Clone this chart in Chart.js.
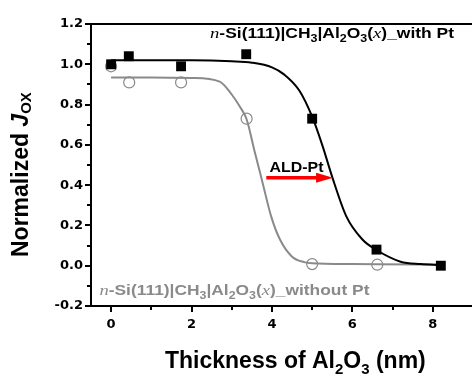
<!DOCTYPE html>
<html><head><meta charset="utf-8">
<script src="https://cdn.jsdelivr.net/npm/chart.js@4.4.0/dist/chart.umd.min.js"></script>
<style>html,body{margin:0;padding:0;overflow:hidden;background:#fff}#wrap{width:480px;height:374px}</style>
</head><body><div id="wrap"><canvas id="c" width="480" height="374"></canvas></div>
<script>
// ---- data ----
const thicknessWithPt = [0, 0.44, 1.74, 3.36, 5.0, 6.6, 8.2];
const jWithPt = [1.0, 1.04, 0.99, 1.05, 0.73, 0.08, 0.0];
const thicknessWithoutPt = [0, 0.45, 1.74, 3.37, 5.0, 6.62];
const jWithoutPt = [0.99, 0.91, 0.91, 0.73, 0.008, 0.005];
const fitWithPtX = [0, 1, 2, 3, 3.5, 4.0, 4.3, 4.68, 5.0, 5.25, 5.5, 5.85, 6.25, 6.6, 7.2, 7.7, 8.2];
const fitWithPtY = [1.02, 1.02, 1.02, 1.015, 1.008, 0.985, 0.95, 0.87, 0.74, 0.6, 0.44, 0.245, 0.13, 0.078, 0.02, 0.008, 0.003];
const fitWithoutPtX = [0, 1, 2, 2.7, 3.0, 3.2, 3.37, 3.56, 3.77, 3.98, 4.2, 4.5, 4.8, 5.0, 6.0, 6.6, 8.2];
const fitWithoutPtY = [0.935, 0.935, 0.932, 0.914, 0.85, 0.79, 0.727, 0.575, 0.41, 0.245, 0.13, 0.045, 0.018, 0.012, 0.008, 0.007, 0.005];
const xTickLabels = ['0', '2', '4', '6', '8'];
const yTickLabels = ['-0.2', '0.0', '0.2', '0.4', '0.6', '0.8', '1.0', '1.2'];
const seriesLabels = ['with Pt', 'without Pt'];

// ---- presentation ----
const GRAY = '#8a8a8a';
const SANS = '"Liberation Sans", Arial, sans-serif';
const SERIF = '"Liberation Serif", "Times New Roman", serif';
const toXY = (xs, ys) => xs.map((x, i) => ({x: x, y: ys[i]}));

// text annotations (positions in data units)
const notes = {
  withPt:   {x: 2.46, y: 1.129, width: 244, color: '#000'},
  without:  {x: -0.29, y: -0.147, width: 270, color: GRAY},
  ald:      {x: 3.94, y: 0.467, width: 54, color: '#000'},
  arrow:    {x0: 3.86, x1: 5.52, y: 0.437}
};

function legendRuns(tail) {
  return [
    {t: 'n', f: 'italic 15px ' + SERIF},
    {t: '-Si(111)|CH', f: 'bold 14px ' + SANS},
    {t: '3', f: 'bold 10px ' + SANS, dy: 4},
    {t: '|Al', f: 'bold 14px ' + SANS},
    {t: '2', f: 'bold 10px ' + SANS, dy: 4},
    {t: 'O', f: 'bold 14px ' + SANS},
    {t: '3', f: 'bold 10px ' + SANS, dy: 4},
    {t: '(', f: 'bold 14px ' + SANS},
    {t: 'x', f: 'italic 15px ' + SERIF},
    {t: ')_' + tail, f: 'bold 14px ' + SANS}
  ];
}

function runsWidth(ctx, runs) {
  let w = 0;
  runs.forEach(r => { ctx.font = r.f; w += ctx.measureText(r.t).width; });
  return w;
}
function drawRuns(ctx, runs, x, y, color, targetWidth) {
  const w = runsWidth(ctx, runs);
  const sx = targetWidth ? targetWidth / w : 1;
  ctx.save();
  ctx.translate(x, y);
  ctx.scale(sx, 1);
  ctx.fillStyle = color;
  ctx.textBaseline = 'alphabetic';
  ctx.textAlign = 'left';
  let cx = 0;
  runs.forEach(r => {
    ctx.font = r.f;
    ctx.fillText(r.t, cx, r.dy || 0);
    cx += ctx.measureText(r.t).width;
  });
  ctx.restore();
}

const decor = {
  id: 'decor',
  afterDraw(chart) {
    const {ctx, chartArea: a, scales: {x, y}} = chart;
    ctx.save();
    ctx.strokeStyle = '#000';
    ctx.lineWidth = 2;
    ctx.lineCap = 'butt';
    // top frame line
    ctx.beginPath(); ctx.moveTo(a.left - 1, a.top); ctx.lineTo(chart.width, a.top); ctx.stroke();
    // y ticks (major every 0.2, minor every 0.1)
    for (let i = 0; i <= 14; i++) {
      const py = Math.round(y.getPixelForValue(-0.2 + i * 0.1));
      const len = i % 2 === 0 ? 5 : 3;
      ctx.beginPath(); ctx.moveTo(a.left - 1 - len, py); ctx.lineTo(a.left, py); ctx.stroke();
    }
    // x ticks (major every 2, minor every 1)
    for (let v = 0; v <= 9; v++) {
      const px = Math.round(x.getPixelForValue(v));
      const len = v % 2 === 0 ? 5 : 3;
      ctx.beginPath(); ctx.moveTo(px, a.bottom); ctx.lineTo(px, a.bottom + 1 + len); ctx.stroke();
    }
    // arrow
    const ax0 = x.getPixelForValue(notes.arrow.x0), ax1 = x.getPixelForValue(notes.arrow.x1);
    const ay = y.getPixelForValue(notes.arrow.y);
    ctx.strokeStyle = '#ff0000'; ctx.fillStyle = '#ff0000'; ctx.lineWidth = 3.5;
    ctx.beginPath(); ctx.moveTo(ax0, ay); ctx.lineTo(ax1 - 14, ay); ctx.stroke();
    ctx.beginPath(); ctx.moveTo(ax1, ay); ctx.lineTo(ax1 - 17, ay - 5); ctx.lineTo(ax1 - 17, ay + 5); ctx.closePath(); ctx.fill();
    ctx.restore();

    // annotations
    drawRuns(ctx, legendRuns('with Pt'), x.getPixelForValue(notes.withPt.x), y.getPixelForValue(notes.withPt.y), notes.withPt.color, notes.withPt.width);
    drawRuns(ctx, legendRuns('without Pt'), x.getPixelForValue(notes.without.x), y.getPixelForValue(notes.without.y), notes.without.color, notes.without.width);
    drawRuns(ctx, [{t: 'ALD-Pt', f: 'bold 14px ' + SANS}], x.getPixelForValue(notes.ald.x), y.getPixelForValue(notes.ald.y), notes.ald.color, notes.ald.width);

    // axis titles
    drawRuns(ctx, [
      {t: 'Thickness of Al', f: 'bold 23px ' + SANS},
      {t: '2', f: 'bold 15px ' + SANS, dy: 6},
      {t: 'O', f: 'bold 23px ' + SANS},
      {t: '3', f: 'bold 15px ' + SANS, dy: 6},
      {t: ' (nm)', f: 'bold 23px ' + SANS}
    ], 165, 368, '#000');
    ctx.save();
    ctx.translate(28, 257);
    ctx.rotate(-Math.PI / 2);
    drawRuns(ctx, [
      {t: 'Normalized ', f: 'bold 23px ' + SANS},
      {t: 'J', f: 'italic bold 23px ' + SANS},
      {t: 'OX', f: 'bold 15px ' + SANS, dy: 3}
    ], 0, 0, '#000');
    ctx.restore();
  }
};

new Chart(document.getElementById('c'), {
  type: 'scatter',
  data: {
    datasets: [
      {label: seriesLabels[0], data: toXY(thicknessWithPt, jWithPt), pointStyle: 'rect', pointRadius: 7, pointHoverRadius: 7,
       backgroundColor: '#000', borderColor: '#000', borderWidth: 0, order: 0},
      {label: seriesLabels[1], data: toXY(thicknessWithoutPt, jWithoutPt), pointStyle: 'circle', pointRadius: 5.5, pointHoverRadius: 5.5,
       backgroundColor: 'rgba(255,255,255,0)', borderColor: GRAY, borderWidth: 1.2, order: 1},
      {label: 'fit ' + seriesLabels[0], data: toXY(fitWithPtX, fitWithPtY), showLine: true, pointRadius: 0, borderColor: '#000',
       borderWidth: 2, cubicInterpolationMode: 'monotone', order: 2},
      {label: 'fit ' + seriesLabels[1], data: toXY(fitWithoutPtX, fitWithoutPtY), showLine: true, pointRadius: 0, borderColor: GRAY,
       borderWidth: 2, cubicInterpolationMode: 'monotone', order: 3}
    ]
  },
  options: {
    responsive: false,
    animation: false,
    devicePixelRatio: 1,
    layout: {padding: {top: 24, right: 6.4, left: 0, bottom: 0}},
    plugins: {legend: {display: false}, tooltip: {enabled: false}},
    scales: {
      x: {
        type: 'linear', min: -0.5, max: 9,
        grid: {display: true, drawOnChartArea: false, drawTicks: false},
        border: {display: true, color: '#000', width: 2},
        ticks: {stepSize: 2, includeBounds: false, padding: 11, color: '#000',
                font: {family: '"DejaVu Sans"', weight: 'bold', size: 13},
                callback: (v, i) => xTickLabels[i]},
        afterFit: s => { s.height = 68; }
      },
      y: {
        type: 'linear', min: -0.2, max: 1.2,
        grid: {display: true, drawOnChartArea: false, drawTicks: false},
        border: {display: true, color: '#000', width: 2},
        ticks: {stepSize: 0.2, padding: 8, color: '#000',
                font: {family: '"DejaVu Sans"', weight: 'bold', size: 13},
                callback: (v, i) => yTickLabels[i]},
        afterFit: s => { s.width = 91; }
      }
    }
  },
  plugins: [decor]
});
</script>
</body></html>
